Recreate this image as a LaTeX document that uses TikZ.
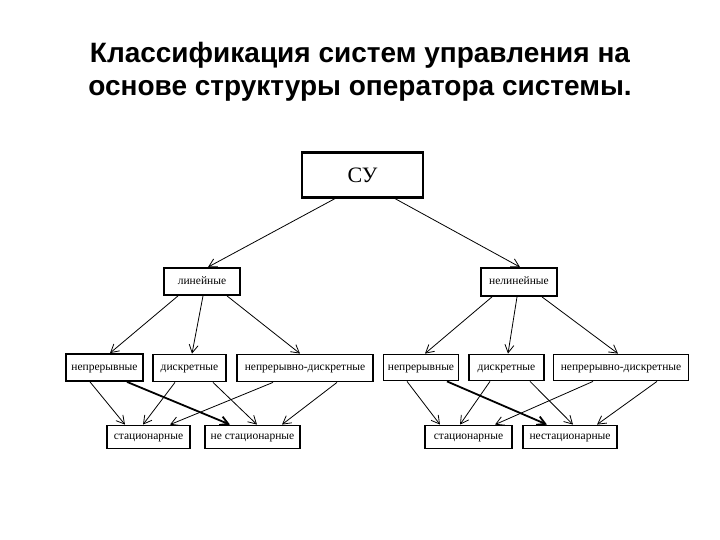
\documentclass[tikz,border=0pt]{standalone}
\usepackage{fontspec}
\setmainfont{Liberation Serif}
\newfontfamily\titlefont{Liberation Sans}
\usetikzlibrary{arrows.meta}

\begin{document}
\begin{tikzpicture}[
  x=1pt, y=-1pt,
  box/.style={draw=black, line width=1.8pt, fill=white, inner sep=0pt, text height=8pt, text depth=2.5pt, font=\fontsize{11.5}{12}\selectfont},
  rootbox/.style={box, line width=2.2pt, minimum width=121pt, minimum height=45pt, text height=15pt, text depth=0pt, font=\fontsize{22}{24}\selectfont},
  arr/.style={-{Straight Barb[length=8pt,width=9pt]}, black, line width=0.8pt},
  thickarr/.style={arr, line width=1.8pt}
]
  \useasboundingbox (0,0) rectangle (720,540);

  \node[anchor=base, align=center, font=\titlefont\bfseries\fontsize{28}{33}\selectfont] (title) at (360,96)
    {Классификация систем управления на\\основе структуры оператора системы.};

  \node[rootbox] (su) at (362.5,175) {СУ};

  \node[box, minimum width=76pt, minimum height=27pt] (lin) at (202,281.5) {линейные};
  \node[box, minimum width=76pt, minimum height=28pt] (nelin) at (519,282) {нелинейные};

  % левая ветвь
  \node[box, minimum width=77pt, minimum height=27pt] (lcont) at (104.5,367.5) {непрерывные};
  \node[box, minimum width=73pt, minimum height=27pt] (ldisc) at (189.5,368) {дискретные};
  \node[box, minimum width=136pt, minimum height=27pt] (lmix) at (305,368) {непрерывно-дискретные};
  \node[box, minimum width=83pt, minimum height=23pt] (lstat) at (148.5,437) {стационарные};
  \node[box, minimum width=95pt, minimum height=23pt] (lnstat) at (252.5,437) {не стационарные};

  % правая ветвь
  \node[box, minimum width=75pt, minimum height=26pt] (rcont) at (421,367.5) {непрерывные};
  \node[box, minimum width=75pt, minimum height=26pt] (rdisc) at (506.5,367.5) {дискретные};
  \node[box, minimum width=135pt, minimum height=26pt] (rmix) at (621,367.5) {непрерывно-дискретные};
  \node[box, minimum width=87pt, minimum height=23pt] (rstat) at (468.5,437) {стационарные};
  \node[box, minimum width=94pt, minimum height=23pt] (rnstat) at (570,437) {нестационарные};

  \draw[arr] ([xshift=-27.5pt]su.south) -- ([xshift=6pt]lin.north);
  \draw[arr] ([xshift=32.5pt]su.south) -- ([xshift=1pt]nelin.north);

  \draw[arr] ([xshift=-24pt]lin.south) -- ([xshift=5.5pt]lcont.north);
  \draw[arr] ([xshift=1pt]lin.south) -- ([xshift=2.5pt]ldisc.north);
  \draw[arr] ([xshift=25pt]lin.south) -- ([xshift=-5pt]lmix.north);

  \draw[arr] ([xshift=-27pt]nelin.south) -- ([xshift=4pt]rcont.north);
  \draw[arr] ([xshift=-2pt]nelin.south) -- ([xshift=1.5pt]rdisc.north);
  \draw[arr] ([xshift=23pt]nelin.south) -- ([xshift=-3pt]rmix.north);

  \draw[arr] ([xshift=-14.5pt]lcont.south) -- ([xshift=-23.5pt]lstat.north);
  \draw[thickarr] ([xshift=22.5pt]lcont.south) -- ([xshift=-22.5pt]lnstat.north);
  \draw[arr] ([xshift=-14.5pt]ldisc.south) -- ([xshift=-5.5pt]lstat.north);
  \draw[arr] ([xshift=23.5pt]ldisc.south) -- ([xshift=4.5pt]lnstat.north);
  \draw[arr] ([xshift=-32pt]lmix.south) -- ([xshift=21.5pt]lstat.north);
  \draw[arr] ([xshift=32pt]lmix.south) -- ([xshift=29.5pt]lnstat.north);

  \draw[arr] ([xshift=-14pt]rcont.south) -- ([xshift=-28.5pt]rstat.north);
  \draw[thickarr] ([xshift=26pt]rcont.south) -- ([xshift=-23pt]rnstat.north);
  \draw[arr] ([xshift=-16.5pt]rdisc.south) -- ([xshift=-8.5pt]rstat.north);
  \draw[arr] ([xshift=23.5pt]rdisc.south) -- ([xshift=3pt]rnstat.north);
  \draw[arr] ([xshift=-28pt]rmix.south) -- ([xshift=26.5pt]rstat.north);
  \draw[arr] ([xshift=36pt]rmix.south) -- ([xshift=27pt]rnstat.north);
\end{tikzpicture}
\end{document}
